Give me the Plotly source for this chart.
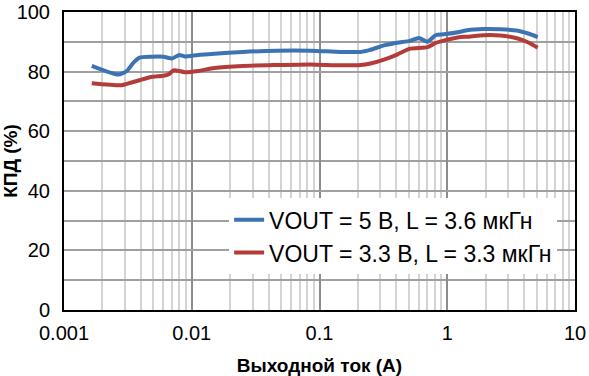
import plotly.graph_objects as go

# Data
current_5v = [0.00165, 0.00265, 0.0031, 0.0035, 0.0039, 0.0048, 0.006, 0.007, 0.008, 0.0088,
              0.0112, 0.015, 0.025, 0.046, 0.085, 0.145, 0.21, 0.25, 0.32, 0.405, 0.51, 0.6,
              0.7, 0.81, 0.94, 1.27, 1.43, 1.93, 2.6, 3.5, 4.36, 5.1]
eff_5v = [81.9, 79.0, 80.2, 83.0, 84.7, 85.0, 85.0, 84.4, 85.6, 85.1,
          85.6, 86.0, 86.6, 87.0, 87.0, 86.6, 86.6, 87.3, 88.8, 89.7, 90.3, 91.3,
          90.0, 92.2, 92.5, 93.4, 93.9, 94.3, 94.2, 93.8, 92.7, 91.6]

current_33v = [0.00165, 0.0028, 0.0031, 0.0039, 0.0048, 0.006, 0.0066, 0.0072, 0.0078, 0.0088,
               0.0112, 0.015, 0.025, 0.046, 0.085, 0.145, 0.21, 0.25, 0.32, 0.405, 0.51, 0.7,
               0.81, 0.94, 1.27, 1.43, 1.93, 2.6, 3.5, 4.36, 5.1]
eff_33v = [76.1, 75.4, 75.9, 77.1, 78.2, 78.6, 79.1, 80.4, 80.3, 79.8,
           80.2, 81.2, 81.9, 82.2, 82.4, 82.1, 82.2, 82.7, 84.0, 85.7, 87.7, 88.2,
           89.6, 90.4, 91.6, 91.7, 92.2, 92.1, 91.2, 89.7, 88.0]

x_tickvals = [0.001, 0.01, 0.1, 1, 10]
x_ticktext = ["0.001", "0.01", "0.1", "1", "10"]
y_tickvals = [0, 20, 40, 60, 80, 100]

names = ["VOUT = 5 В, L = 3.6 мкГн", "VOUT = 3.3 В, L = 3.3 мкГн"]
colors = ["#3B73B3", "#B33B3A"]

FONT = "Liberation Sans, Arial, sans-serif"

fig = go.Figure()
fig.add_trace(go.Scatter(x=current_5v, y=eff_5v, mode="lines", name=names[0],
                         line=dict(color=colors[0], width=4, shape="spline", smoothing=0.6),
                         legendgroup="a"))
fig.add_trace(go.Scatter(x=current_33v, y=eff_33v, mode="lines", name=names[1],
                         line=dict(color=colors[1], width=4, shape="spline", smoothing=0.6),
                         legendgroup="b"))

fig.update_layout(
    width=589, height=376,
    margin=dict(l=64, r=14, t=12, b=66, autoexpand=False),
    paper_bgcolor="white", plot_bgcolor="white",
    font=dict(family=FONT, size=20, color="black"),
    showlegend=True,
    legend=dict(x=0.965, y=0.12, xanchor="right", yanchor="bottom",
                bgcolor="white", borderwidth=0, font=dict(size=23, family=FONT),
                traceorder="grouped", tracegroupgap=0),
    xaxis=dict(type="log", range=[-3, 1], tickvals=x_tickvals, ticktext=x_ticktext,
               showgrid=True, gridcolor="#8C8C8C", gridwidth=1.5,
               minor=dict(dtick="D1", showgrid=True, gridcolor="#D4D4D4", gridwidth=1.5, ticks=""),
               showline=True, linecolor="black", linewidth=2, mirror=True,
               ticks="", ticklabelstandoff=4, ticklabeloverflow="allow", zeroline=False,
               title=dict(text="<b>Выходной ток (А)</b>", font=dict(size=19, family=FONT), standoff=18)),
    yaxis=dict(range=[0, 100], tickvals=y_tickvals,
               showgrid=True, gridcolor="#A0A0A0", gridwidth=1.5,
               minor=dict(dtick=10, showgrid=True, gridcolor="#A0A0A0", gridwidth=1.5, ticks=""),
               showline=True, linecolor="black", linewidth=2, mirror=True,
               ticks="", ticklabelstandoff=8, ticklabeloverflow="allow", zeroline=False,
               title=dict(text="<b>КПД (%)</b>", font=dict(size=19, family=FONT), standoff=6)),
)

fig.write_html("out.html", config={"displayModeBar": False},
               post_script="document.body.style.margin='0';document.body.style.padding='0';")
